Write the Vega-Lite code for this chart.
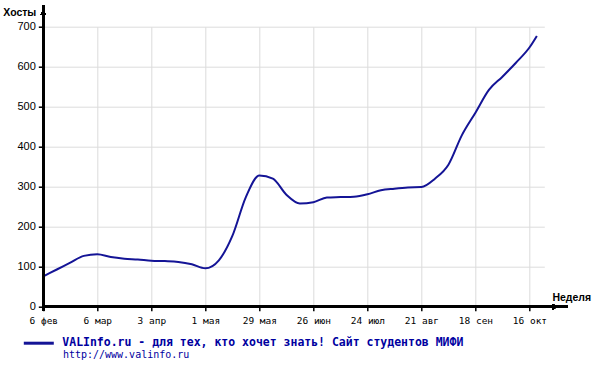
{
  "$schema": "https://vega.github.io/schema/vega-lite/v6.json",
  "width": 501,
  "height": 280,
  "autosize": {"type": "none"},
  "padding": {"left": 43.3, "top": 26.7, "right": 50, "bottom": 58.3},
  "background": "white",
  "config": {"view": {"stroke": null}},
  "title": {
    "text": "http://www.valinfo.ru",
    "orient": "bottom",
    "anchor": "start",
    "frame": "group",
    "dx": 19.7,
    "offset": 0,
    "baseline": "top",
    "font": "DejaVu Sans Mono",
    "fontSize": 10,
    "fontWeight": "normal",
    "color": "#0000a0"
  },
  "data": {
    "values": [
      {"week": 0, "hosts": 76},
      {"week": 1, "hosts": 93},
      {"week": 2, "hosts": 110},
      {"week": 3, "hosts": 127},
      {"week": 4, "hosts": 131},
      {"week": 5, "hosts": 124},
      {"week": 6, "hosts": 120},
      {"week": 7, "hosts": 118},
      {"week": 8, "hosts": 115},
      {"week": 9, "hosts": 114},
      {"week": 10, "hosts": 112},
      {"week": 11, "hosts": 106},
      {"week": 12, "hosts": 96},
      {"week": 13, "hosts": 116},
      {"week": 14, "hosts": 177},
      {"week": 15, "hosts": 274},
      {"week": 16, "hosts": 328},
      {"week": 17, "hosts": 320},
      {"week": 18, "hosts": 280},
      {"week": 19, "hosts": 258},
      {"week": 20, "hosts": 261},
      {"week": 21, "hosts": 273},
      {"week": 22, "hosts": 274},
      {"week": 23, "hosts": 275},
      {"week": 24, "hosts": 281},
      {"week": 25, "hosts": 291},
      {"week": 26, "hosts": 295},
      {"week": 27, "hosts": 298},
      {"week": 28, "hosts": 299},
      {"week": 29, "hosts": 320},
      {"week": 30, "hosts": 355},
      {"week": 31, "hosts": 429},
      {"week": 32, "hosts": 485},
      {"week": 33, "hosts": 542},
      {"week": 34, "hosts": 575},
      {"week": 35, "hosts": 610},
      {"week": 36, "hosts": 648},
      {"week": 36.55, "hosts": 677}
    ]
  },
  "layer": [
    {
      "mark": {"type": "line", "interpolate": "monotone", "strokeWidth": 2},
      "encoding": {
        "x": {
          "field": "week",
          "type": "quantitative",
          "scale": {"domain": [0, 37.1], "nice": false, "zero": false},
          "axis": {
            "values": [0, 4, 8, 12, 16, 20, 24, 28, 32, 36],
            "tickCount": 12,
            "labelExpr": "['6 фев','6 мар','3 апр','1 мая','29 мая','26 июн','24 июл','21 авг','18 сен','16 окт'][round(datum.value/4)]",
            "grid": true,
            "gridColor": "#dcdcdc",
            "gridWidth": 1,
            "domain": false,
            "tickColor": "black",
            "tickSize": 4,
            "tickWidth": 1.5,
            "labelFont": "DejaVu Sans Mono",
            "labelFontSize": 9.5,
            "labelColor": "black",
            "labelPadding": 5,
            "labelFlush": false,
            "labelOverlap": false,
            "title": "Неделя",
            "titleFont": "Liberation Sans",
            "titleFontSize": 10.5,
            "titleFontWeight": "bold",
            "titleColor": "black",
            "titleX": 528,
            "titleY": -8.7,
            "titleAlign": "center",
            "titleBaseline": "middle",
            "titleAngle": 0
          }
        },
        "y": {
          "field": "hosts",
          "type": "quantitative",
          "scale": {"domain": [0, 700], "nice": false},
          "axis": {
            "values": [0, 100, 200, 300, 400, 500, 600, 700],
            "tickCount": 10,
            "grid": true,
            "gridColor": "#dcdcdc",
            "gridWidth": 1,
            "domain": false,
            "tickColor": "black",
            "tickSize": 5,
            "tickWidth": 1.5,
            "labelFont": "Liberation Sans",
            "labelFontSize": 11,
            "labelColor": "black",
            "labelPadding": 3,
            "labelOverlap": false,
            "labelFlush": false,
            "title": "Хосты",
            "titleFont": "Liberation Sans",
            "titleFontSize": 10.5,
            "titleFontWeight": "bold",
            "titleColor": "black",
            "titleX": -24,
            "titleY": -14,
            "titleAlign": "center",
            "titleBaseline": "middle",
            "titleAngle": 0
          }
        },
        "color": {
          "datum": "VALInfo.ru - для тех, кто хочет знать! Сайт студентов МИФИ",
          "scale": {"range": ["#141496"]},
          "legend": {
            "orient": "none",
            "legendX": -21,
            "legendY": 300,
            "title": null,
            "padding": 0,
            "symbolType": "stroke",
            "symbolSize": 900,
            "symbolStrokeWidth": 3,
            "labelFont": "DejaVu Sans Mono",
            "labelFontSize": 11.5,
            "labelFontWeight": "bold",
            "labelColor": "#0000a0",
            "labelOffset": 7,
            "labelLimit": 0
          }
        }
      }
    },
    {
      "mark": {"type": "rule", "color": "black", "strokeWidth": 2.5, "clip": false},
      "encoding": {
        "x": {"datum": 0, "type": "quantitative"},
        "y": {"datum": -10, "type": "quantitative"},
        "y2": {"datum": 754}
      }
    },
    {
      "mark": {"type": "rule", "color": "black", "strokeWidth": 2.5, "clip": false},
      "encoding": {
        "y": {"datum": 0, "type": "quantitative"},
        "x": {"datum": 0, "type": "quantitative"},
        "x2": {"datum": 38.8}
      }
    },
    {
      "mark": {"type": "point", "shape": "triangle-up", "filled": true, "color": "black", "size": 30, "opacity": 1, "clip": false},
      "encoding": {
        "x": {"datum": 0, "type": "quantitative"},
        "y": {"datum": 735, "type": "quantitative"}
      }
    },
    {
      "mark": {"type": "point", "shape": "triangle-right", "filled": true, "color": "black", "size": 30, "opacity": 1, "clip": false},
      "encoding": {
        "x": {"datum": 37.9, "type": "quantitative"},
        "y": {"datum": 0, "type": "quantitative"}
      }
    }
  ]
}
